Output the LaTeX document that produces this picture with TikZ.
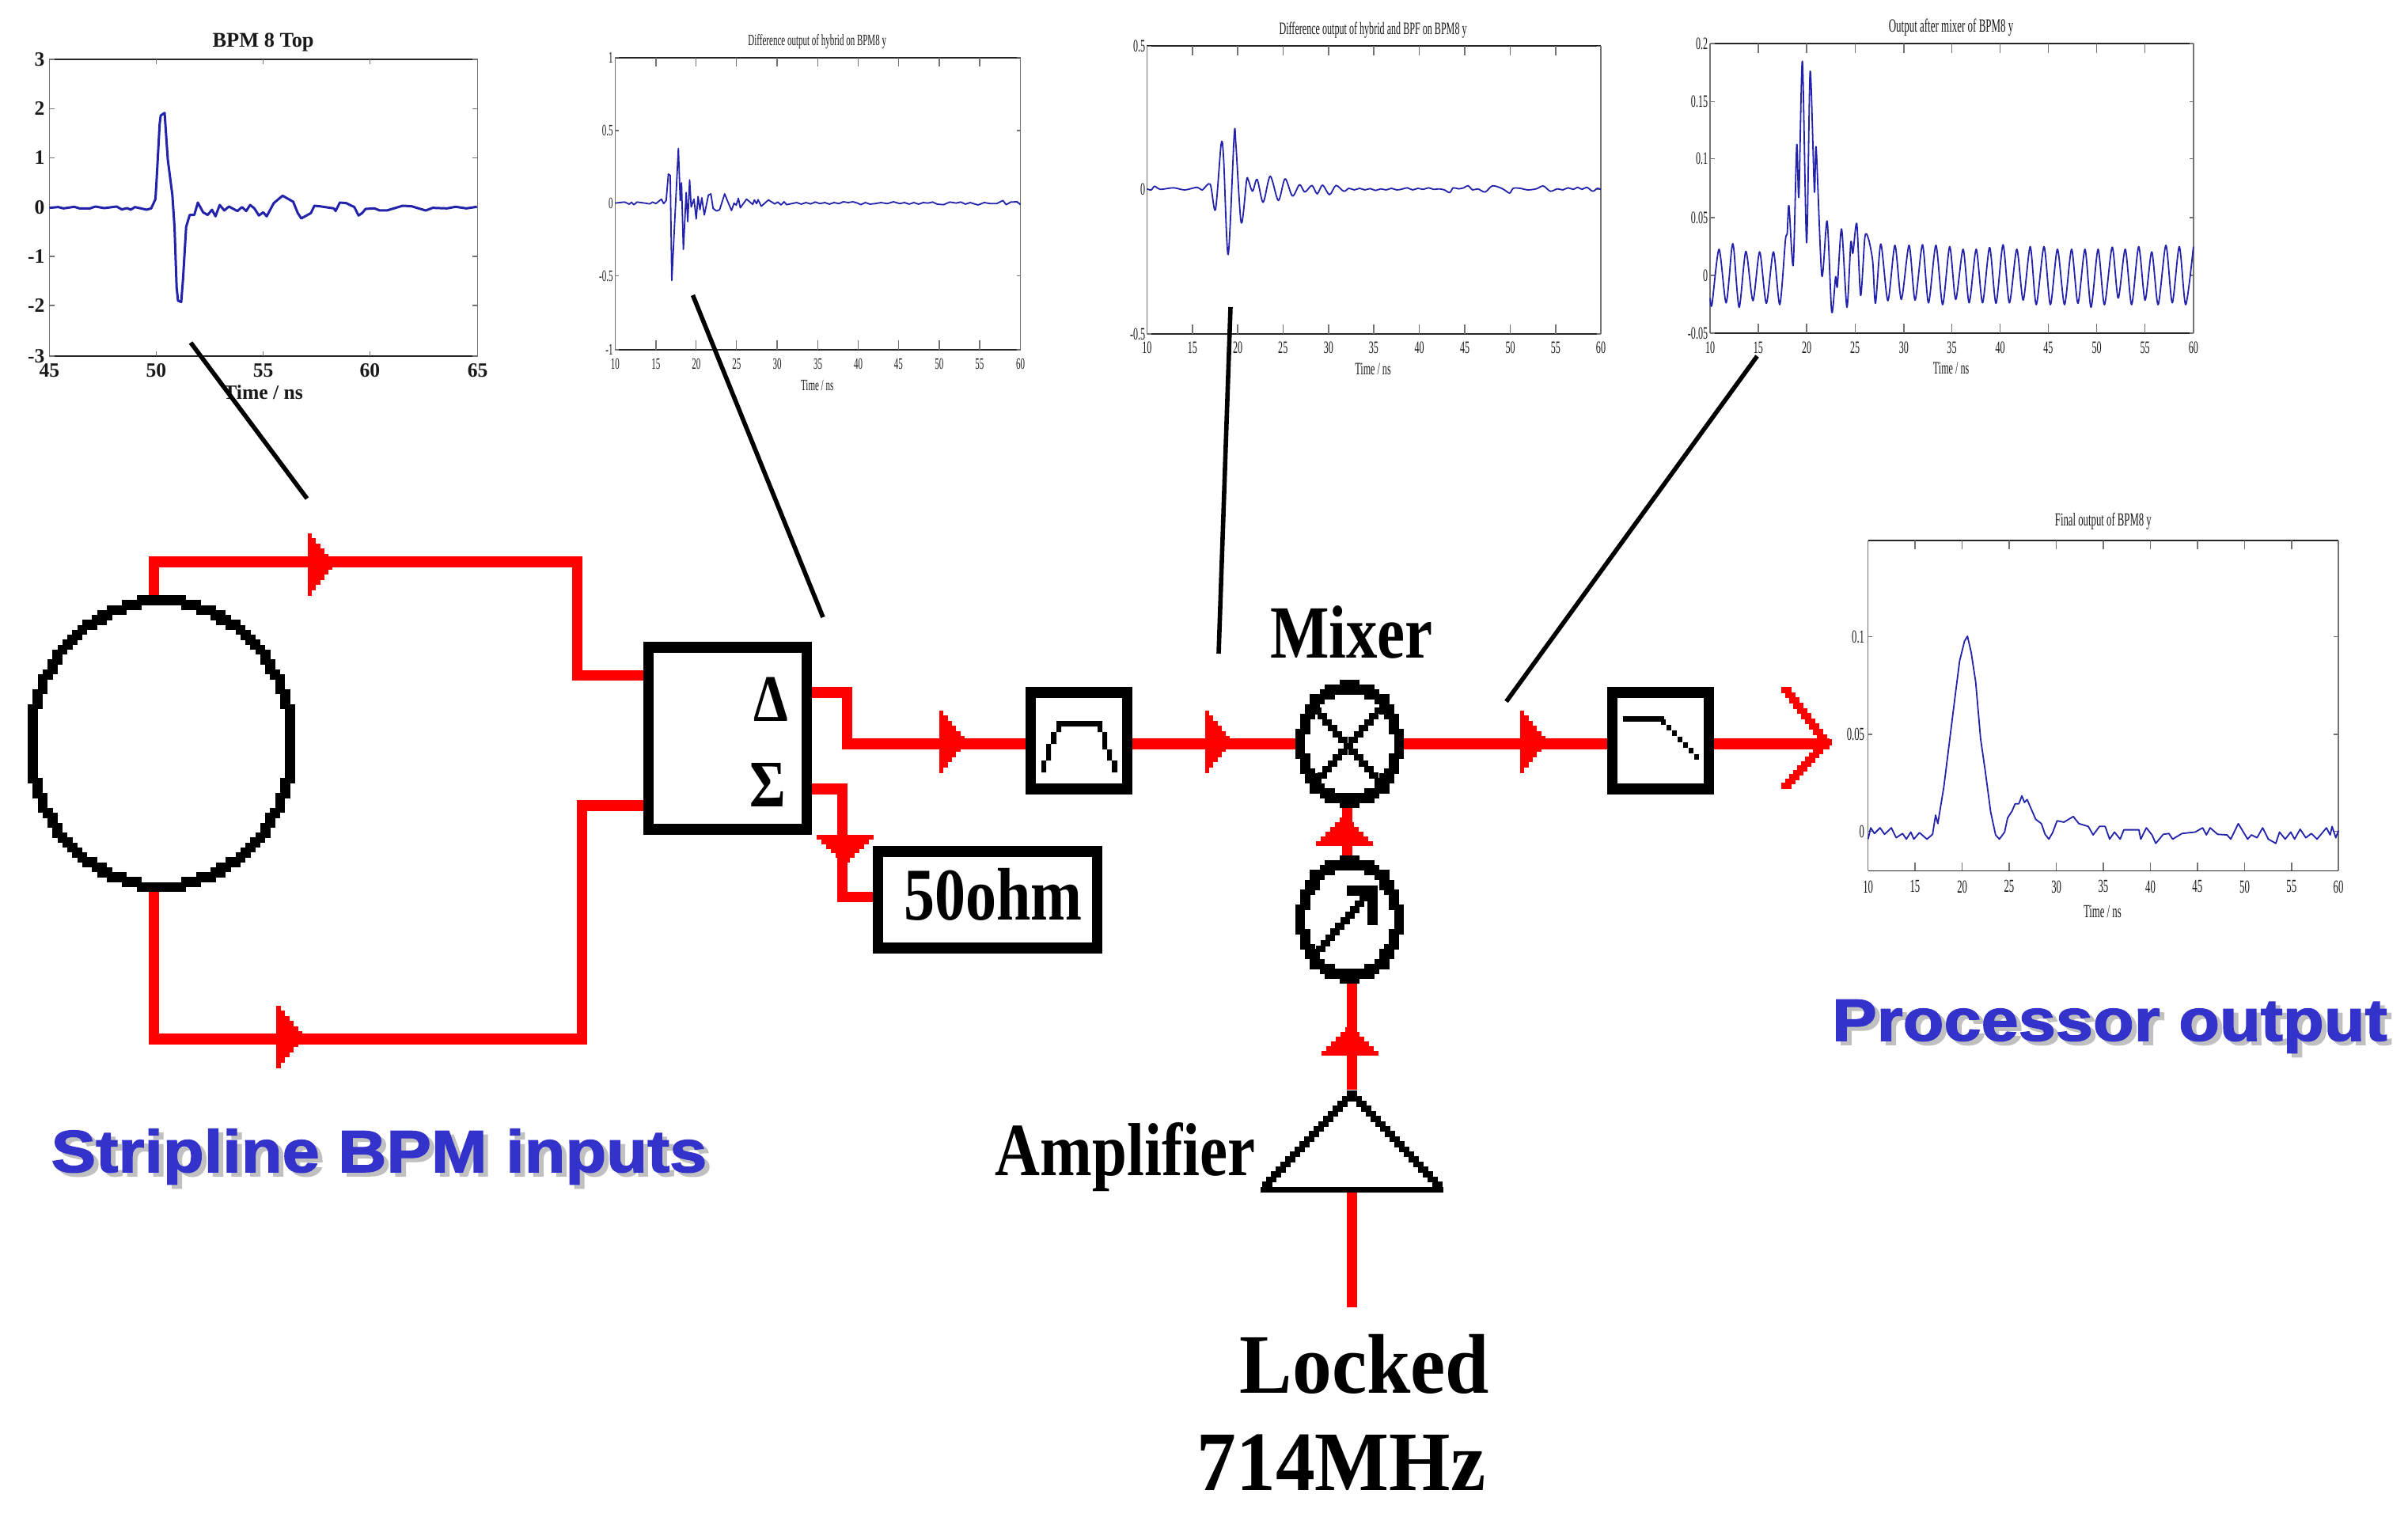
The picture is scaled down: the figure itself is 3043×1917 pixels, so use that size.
\documentclass[tikz,border=0pt]{standalone}
\usepackage{fontspec}
\usetikzlibrary{shapes.geometric}
\setmainfont{Liberation Serif}
\newfontfamily\plotcond[FakeStretch=0.55]{Liberation Serif}
\newfontfamily\bitfont[FakeStretch=0.83]{Liberation Serif}
\newfontfamily\lockfont[FakeStretch=0.93]{Liberation Serif}
\newfontfamily\titlefont[FakeStretch=1.13,FakeBold=2]{Liberation Sans}
\definecolor{wirered}{HTML}{FF0000}
\definecolor{traceblue}{HTML}{2222AA}
\definecolor{titleblue}{HTML}{3333CC}
\definecolor{shadowgray}{HTML}{C0C0C0}
\tikzset{
  wire/.style={draw=wirered,line width=3.4pt,line join=miter,line cap=butt},
  pointer/.style={draw=black,line width=1.4pt},
  blockbox/.style={rectangle,draw=black,line width=3.4pt,inner sep=0pt},
  ghost/.style={ellipse,inner sep=0pt,outer sep=0pt},
  plotside/.style={draw=black!55,line width=0.35pt},
  plotedge/.style={draw=black!85,line width=0.45pt},
  trace/.style={draw=traceblue,line width=0.45pt,line join=round},
  plotlabel/.style={inner sep=0pt,text=black!90},
  bitlabel/.style={anchor=base,inner sep=0pt,font=\bitfont\bfseries\fontsize{23.75}{26}\selectfont},
  locklabel/.style={anchor=base,inner sep=0pt,font=\lockfont\bfseries\fontsize{26.75}{30}\selectfont},
  biglabel/.style={anchor=base,inner sep=0pt,font=\titlefont\bfseries\fontsize{18.75}{22}\selectfont}
}
% stepped arrow head: base at (x,y), length, half height, angle
\newcommand\stepar[5]{%
  \begin{scope}[shift={(#1,#2)},rotate=#5]
    \foreach \i in {1,...,6}{%
      \fill[wirered] (0,{-#4*(7-\i)/6}) rectangle ({#3*\i/6},{#4*(7-\i)/6});}
  \end{scope}}
% staircase line of blocks
\newcommand\pixseg[8][black]{%
  \foreach \i in {0,...,#6}{%
    \pgfmathsetmacro\pxa{#2+(#4-#2)*\i/#6}%
    \pgfmathsetmacro\pya{#3+(#5-#3)*\i/#6}%
    \fill[#1] (\pxa-#7/2,\pya-#8/2) rectangle (\pxa+#7/2,\pya+#8/2);}}
% pixel ellipse ring: cx cy rx ry
\newcommand\pixring[4]{%
  \foreach \a in {0,2,...,358}{%
    \pgfmathsetmacro\pxa{#1+round(#3*cos(\a)/6.25)*6.25}%
    \pgfmathsetmacro\pya{#2+round(#4*sin(\a)/6.25)*6.25}%
    \fill[black] (\pxa-6.4,\pya-6.4) rectangle (\pxa+6.4,\pya+6.4);}}
% plot frame: id xl yt xr yb xticks yticks xlabely ylabelright
\newcommand\plotframe[9]{%
  \draw[plotside] (#2,#3) -- (#2,#5) (#4,#3) -- (#4,#5);
  \draw[plotedge] (#2,#3) -- (#4,#3) (#2,#5) -- (#4,#5);
  \foreach \tpos/\tlab [count=\tn] in {#6}{%
    \draw[plotside] (\tpos,#3) -- ++(0,\tlenx) (\tpos,#5) -- ++(0,-\tlenx);
    \node[plotlabel] (#1x\tn) at (\tpos,#8) {\tlab};}
  \foreach \tpos/\tlab [count=\tn] in {#7}{%
    \draw[plotside] (#2,\tpos) -- ++(\tleny,0) (#4,\tpos) -- ++(-\tleny,0);
    \node[plotlabel,anchor=east] (#1y\tn) at (#9,\tpos) {\tlab};}
}
\begin{document}
\begin{tikzpicture}[x=0.25pt,y=-0.25pt]
\useasboundingbox (0,0) rectangle (3043,1917);
\fill[white] (0,0) rectangle (3043,1917);

%---------------- plot 1
\begin{scope}[shift={(0,20)},x=0.1116pt,y=-0.08333pt,font=\bfseries\fontsize{6.4}{7}\selectfont]
\def\tlenx{18}\def\tleny{15}
\plotframe{pa}{140}{165}{1352}{1290}{140/45,442/50,745/55,1047/60,1352/65}{165/3,352/2,538/1,727/0,912/-1,1098/-2,1290/-3}{1345}{128}
\node[plotlabel,font=\bfseries\fontsize{6.6}{7}\selectfont] (patitle) at (745,100) {BPM 8 Top};
\node[plotlabel] (patime) at (745,1427) {Time / ns};
\draw[trace,line width=0.75pt] (140,728)--(165,725)--(180,730)--(210,724)--(225,730)--(255,730)--(270,723)--(295,729)--(330,723)--(345,734)--(360,729)--(370,735)--(382,725)--(415,735)--(428,730)--(440,695)--(443,630)--(452,410)--(455,378)--(466,368)--(475,545)--(488,680)--(494,800)--(500,1030)--(504,1080)--(513,1085)--(518,1000)--(527,800)--(537,755)--(550,755)--(560,708)--(575,745)--(588,755)--(600,735)--(610,760)--(622,717)--(635,738)--(648,723)--(672,740)--(685,725)--(697,740)--(708,717)--(720,730)--(733,757)--(745,745)--(755,760)--(775,710)--(800,682)--(830,705)--(843,748)--(853,768)--(880,748)--(890,720)--(905,722)--(945,730)--(950,740)--(962,708)--(980,710)--(1003,725)--(1015,757)--(1025,748)--(1035,732)--(1060,730)--(1075,738)--(1095,738)--(1140,720)--(1165,722)--(1205,738)--(1225,728)--(1265,730)--(1290,724)--(1320,730)--(1350,724);
\end{scope}

%---------------- plot 2
\begin{scope}[shift={(730,20)},x=0.0988pt,y=-0.08333pt,font=\plotcond\fontsize{5}{6}\selectfont]
\def\tlenx{35}\def\tleny{12}
\plotframe{pb}{120}{158}{1416}{1266}{120/10,250/15,379/20,508/25,638/30,768/35,897/40,1026/45,1156/50,1285/55,1416/60}{158/1,435/0.5,710/0,986/-0.5,1266/-1}{1320}{115}
\node[plotlabel,font=\plotcond\fontsize{5}{6}\selectfont] (pbtitle) at (766,97) {Difference output of hybrid on BPM8 y};
\node[plotlabel] (pbtime) at (766,1400) {Time / ns};
\draw[trace] (120,710)--(150,706)--(165,714)--(172,707)--(180,716)--(190,706)--(215,710)--(230,713)--(240,706)--(250,712)--(268,695)--(275,712)--(283,700)--(290,600)--(296,605)--(301,1003)--(312,740)--(322,503)--(328,700)--(332,633)--(338,885)--(347,670)--(352,780)--(358,622)--(363,725)--(372,695)--(379,770)--(385,685)--(391,735)--(397,690)--(405,755)--(418,680)--(426,675)--(433,730)--(444,740)--(454,735)--(470,675)--(482,710)--(492,738)--(500,710)--(507,718)--(514,692)--(520,728)--(540,695)--(560,715)--(565,698)--(572,712)--(577,697)--(587,722)--(610,698)--(630,713)--(640,706)--(650,717)--(660,705)--(668,716)--(700,708)--(715,714)--(730,708)--(745,713)--(760,706)--(775,712)--(790,708)--(805,714)--(820,708)--(835,712)--(850,705)--(865,708)--(880,705)--(895,710)--(905,716)--(920,708)--(935,714)--(950,712)--(970,708)--(990,712)--(1010,705)--(1030,712)--(1045,708)--(1060,714)--(1075,708)--(1090,714)--(1105,708)--(1120,710)--(1135,706)--(1150,714)--(1170,716)--(1190,706)--(1210,710)--(1225,706)--(1240,714)--(1255,708)--(1280,717)--(1300,708)--(1320,712)--(1340,712)--(1360,700)--(1370,716)--(1385,706)--(1405,705)--(1416,716);
\end{scope}

%---------------- plot 3
\begin{scope}[shift={(1390,10)},x=0.1116pt,y=-0.08333pt,font=\plotcond\fontsize{5.5}{6}\selectfont]
\def\tlenx{35}\def\tleny{12}
\plotframe{pc}{133}{145}{1418}{1236}{133/10,262/15,390/20,518/25,647/30,775/35,904/40,1033/45,1162/50,1290/55,1418/60}{145/0.5,688/0,1236/-0.5}{1288}{130}
\node[plotlabel] (pctitle) at (773,85) {Difference output of hybrid and BPF on BPM8 y};
\node[plotlabel] (pctime) at (773,1368) {Time / ns};
\draw[trace] plot[smooth,tension=0.5] coordinates {(133,686)(145,690)(155,676)(170,688)(208,682)(240,690)(275,680)(290,690)(312,668)(327,765)(343,517)(350,570)(363,935)(380,483)(385,520)(400,815)(415,655)(420,653)(432,695)(445,650)(462,737)(482,638)(505,730)(524,648)(545,713)(565,670)(580,698)(600,673)(615,705)(630,672)(650,708)(668,673)(690,695)(705,684)(720,690)(735,684)(750,690)(765,685)(780,692)(795,686)(810,690)(825,684)(840,690)(855,687)(870,682)(885,690)(900,684)(915,688)(930,682)(945,688)(960,686)(975,690)(990,700)(1000,682)(1015,686)(1030,682)(1042,674)(1055,690)(1070,686)(1090,698)(1110,675)(1130,680)(1145,690)(1160,702)(1170,684)(1190,684)(1210,690)(1235,686)(1255,675)(1275,695)(1295,686)(1310,690)(1325,682)(1340,688)(1352,680)(1365,688)(1378,680)(1395,695)(1408,684)(1418,688)};
\end{scope}

%---------------- plot 4
\begin{scope}[shift={(2100,0)},x=0.1116pt,y=-0.08333pt,font=\plotcond\fontsize{5.5}{6}\selectfont]
\def\tlenx{35}\def\tleny{12}
\plotframe{pd}{137}{165}{1505}{1263}{137/10,273/15,410/20,547/25,685/30,821/35,958/40,1094/45,1231/50,1368/55,1505/60}{165/0.2,385/0.15,602/0.1,825/0.05,1044/0,1263/-0.05}{1318}{132}
\node[plotlabel,font=\plotcond\fontsize{5.9}{6.5}\selectfont] (pdtitle) at (819,105) {Output after mixer of BPM8 y};
\node[plotlabel] (pdtime) at (819,1395) {Time / ns};
\draw[trace] plot[smooth,tension=0.45] coordinates {(137,1130)(142,1155)(162,945)(182,1148)(198,942)(204,945)(219,1165)(238,953)(258,1140)(277,955)(296,1150)(316,955)(334,1155)(350,910)(355,885)(360,780)(372,1005)(382,550)(388,745)(398,232)(410,920)(420,270)(432,725)(437,560)(453,1045)(468,838)(481,1183)(492,1050)(497,1085)(509,868)(524,1165)(535,920)(541,960)(552,848)(563,1120)(575,898)(585,905)(597,990)(605,1150)(620,925)(640,1140)(660,930)(678,1135)(700,930)(717,1138)(738,928)(755,1148)(776,930)(795,1155)(815,935)(832,1135)(853,945)(870,1148)(890,945)(908,1148)(928,938)(946,1150)(966,928)(984,1148)(1005,945)(1023,1138)(1043,935)(1060,1155)(1082,935)(1100,1155)(1120,945)(1140,1155)(1160,945)(1178,1150)(1198,945)(1215,1165)(1235,945)(1253,1155)(1275,937)(1292,1130)(1312,945)(1330,1155)(1350,935)(1368,1138)(1387,955)(1405,1155)(1427,930)(1445,1148)(1465,935)(1483,1155)(1505,935)};
\end{scope}

%---------------- plot 5
\begin{scope}[shift={(2300,630)},x=0.1185pt,y=-0.08929pt,font=\plotcond\fontsize{5.8}{6.5}\selectfont]
\def\tlenx{30}\def\tleny{12}
\plotframe{pe}{128}{148}{1382}{1317}{128/10,253/15,379/20,504/25,630/30,755/35,881/40,1006/45,1132/50,1257/55,1382/60}{489/0.1,834/0.05,1178/0}{1373}{120}
\node[plotlabel] (petitle) at (755,80) {Final output of BPM8 y};
\node[plotlabel] (petime) at (753,1460) {Time / ns};
\draw[trace] (128,1205)--(135,1165)--(145,1185)--(160,1165)--(172,1188)--(190,1165)--(203,1200)--(220,1185)--(230,1205)--(242,1180)--(250,1205)--(265,1182)--(285,1205)--(300,1188)--(308,1120)--(314,1150)--(330,1020)--(345,860)--(360,700)--(372,575)--(385,505)--(393,487)--(403,545)--(415,650)--(428,850)--(440,960)--(455,1110)--(468,1190)--(478,1205)--(492,1180)--(500,1130)--(512,1105)--(520,1080)--(530,1080)--(538,1052)--(545,1075)--(552,1065)--(575,1135)--(590,1150)--(600,1188)--(610,1205)--(620,1182)--(632,1140)--(650,1145)--(675,1125)--(690,1150)--(715,1160)--(728,1190)--(745,1160)--(760,1160)--(772,1205)--(785,1180)--(800,1205)--(810,1172)--(850,1172)--(855,1205)--(870,1165)--(885,1190)--(895,1220)--(915,1188)--(930,1185)--(940,1205)--(965,1185)--(1000,1180)--(1020,1165)--(1030,1190)--(1040,1165)--(1060,1188)--(1085,1190)--(1095,1205)--(1115,1150)--(1140,1205)--(1150,1190)--(1165,1200)--(1180,1165)--(1195,1205)--(1215,1220)--(1225,1180)--(1240,1205)--(1255,1180)--(1265,1205)--(1280,1170)--(1295,1200)--(1310,1185)--(1325,1205)--(1350,1165)--(1360,1190)--(1365,1160)--(1375,1200)--(1382,1175);
\end{scope}

%---------------- nodes
\node[ghost,minimum width=85.5pt,minimum height=93.25pt] (bpm) at (204,939.7) {};
\node[blockbox,minimum width=50pt,minimum height=57.5pt] (hybrid) at (919.5,933) {};
\node[blockbox,minimum width=30.5pt,minimum height=30.5pt] (bpf) at (1363.5,936) {};
\node[blockbox,minimum width=69.25pt,minimum height=30.5pt] (load) at (1248,1137) {};
\node[blockbox,minimum width=30.5pt,minimum height=30.5pt] (lpf) at (2098.5,936) {};
\node[ghost,minimum width=33.75pt,minimum height=39.5pt] (mixer) at (1705.5,940) {};
\node[ghost,minimum width=33.75pt,minimum height=39.5pt] (att) at (1705.5,1162) {};
\node[rectangle,inner sep=0pt,outer sep=0pt,minimum width=57.75pt,minimum height=32.5pt] (amp) at (1708.5,1442) {};

%---------------- coordinates
\coordinate (u1) at (194.5,710);
\coordinate (u2) at (729.5,710);
\coordinate (u3) at (729.5,853.5);
\coordinate (l1) at (194.5,1313);
\coordinate (l2) at (735.5,1313);
\coordinate (l3) at (735.5,1018);
\coordinate (d1) at (1070.5,875);
\coordinate (d2) at (1070.5,940);
\coordinate (s1) at (1064.5,997);
\coordinate (s2) at (1064.5,1133.5);
\coordinate (m1) at (1702.5,1050);
\coordinate (lo) at (1708.5,1652);
\coordinate (outtip) at (2312,940);
\coordinate (p1a) at (241,433);  \coordinate (p1b) at (388,630);
\coordinate (p2a) at (875.5,373);\coordinate (p2b) at (1040,780);
\coordinate (p3a) at (1555,388); \coordinate (p3b) at (1540,826);
\coordinate (p4a) at (2220.5,450);\coordinate (p4b) at (1903.5,886.5);

%---------------- wires
\draw[wire] (u1 |- bpm.north) -- (u1) -- (u2) -- (u3) -- (hybrid.west |- u3);
\draw[wire] (l1 |- bpm.south) -- (l1) -- (l2) -- (l3) -- (hybrid.west |- l3);
\draw[wire] (hybrid.east |- d1) -- (d1) -- (d2) -- (bpf.west |- d2);
\draw[wire] (bpf.east |- d2) -- (mixer.west);
\draw[wire] (hybrid.east |- s1) -- (s1) -- (s2) -- (load.west |- s2);
\draw[wire] (mixer.east) -- (lpf.west |- mixer.east);
\draw[wire] (lpf.east |- mixer.east) -- (outtip);
\draw[wire] (m1 |- mixer.south) -- (m1 |- att.north);
\draw[wire] (att.south -| amp.north) -- (amp.north);
\draw[wire] (lo) -- (amp.south);

%---------------- arrowheads on wires
\stepar{389}{713}{31}{39.5}{0}
\stepar{349}{1310}{33}{39.5}{0}
\stepar{1187}{937}{32}{39.5}{0}
\stepar{1523}{937}{31}{39.5}{0}
\stepar{1921}{937}{32}{39.5}{0}
\stepar{1068}{1055}{35}{36}{-90}
\stepar{1698.5}{1069}{36}{36}{90}
\stepar{1705.5}{1334}{36}{36}{90}
% open arrow at output
\pixseg[wirered]{2257}{872}{2308}{938}{10}{13}{7.5}
\pixseg[wirered]{2257}{993}{2308}{938}{10}{13}{7.5}

%---------------- pointers
\draw[pointer] (p1a) -- (p1b);
\draw[pointer] (p2a) -- (p2b);
\draw[pointer] (p3a) -- (p3b);
\draw[pointer] (p4a) -- (p4b);

%---------------- rings and inner symbols
\pixring{204}{939.7}{165}{180}
\pixring{1705.5}{940}{61}{72.5}
\pixring{1705.5}{1162}{61}{72.5}
% mixer cross
\pixseg{1664}{898}{1743}{987}{12}{12}{8}
\pixseg{1743}{898}{1664}{987}{12}{12}{8}
% attenuator arrow
\pixseg{1669}{1199}{1730}{1128}{10}{12}{8.5}
\fill (1702,1119) rectangle (1741,1132);
\fill (1728,1119) rectangle (1741,1169);
% amplifier triangle
\pixseg{1708.5}{1382}{1601}{1497}{18}{13}{7.5}
\pixseg{1708.5}{1382}{1816}{1497}{18}{13}{7.5}
\fill (1593,1500) rectangle (1824,1507);
% band pass symbol
\fill (1316,961) rectangle (1322,976) (1322,940) rectangle (1328,961) (1328,925) rectangle (1335,940) (1335,911) rectangle (1341,925)
      (1335,911) rectangle (1393,918)
      (1387,911) rectangle (1393,925) (1393,925) rectangle (1399,947) (1399,947) rectangle (1405,961) (1405,961) rectangle (1412,976);
% low pass symbol
\fill (2050.5,905) rectangle (2102.5,912);
\pixseg{2102}{912}{2144}{956}{6}{6.5}{7}

%---------------- text
\node[bitlabel,font=\bitfont\bfseries\fontsize{21}{24}\selectfont] (deltalab) at (974,911) {Δ};
\node[bitlabel,font=\bitfont\bfseries\fontsize{21}{24}\selectfont] (sigmalab) at (970,1019) {Σ};
\node[bitlabel,font=\bitfont\bfseries\fontsize{23.5}{26}\selectfont] (loadlab) at (1255,1162) {50ohm};
\node[bitlabel] (mixerlab) at (1708,831) {Mixer};
\node[bitlabel] (amplab) at (1422,1485) {Amplifier};
\node[locklabel] (lock1) at (1724.5,1760) {Locked};
\node[locklabel] (lock2) at (1695,1883) {714MHz};
\node[biglabel,text=shadowgray] (stripshadow) at (485,1486) {Stripline BPM inputs};
\node[biglabel,text=titleblue] (striplab) at (479,1481) {Stripline BPM inputs};
\node[biglabel,text=shadowgray] (procshadow) at (2672,1320) {Processor output};
\node[biglabel,text=titleblue] (proclab) at (2666,1315) {Processor output};
\end{tikzpicture}
\end{document}
